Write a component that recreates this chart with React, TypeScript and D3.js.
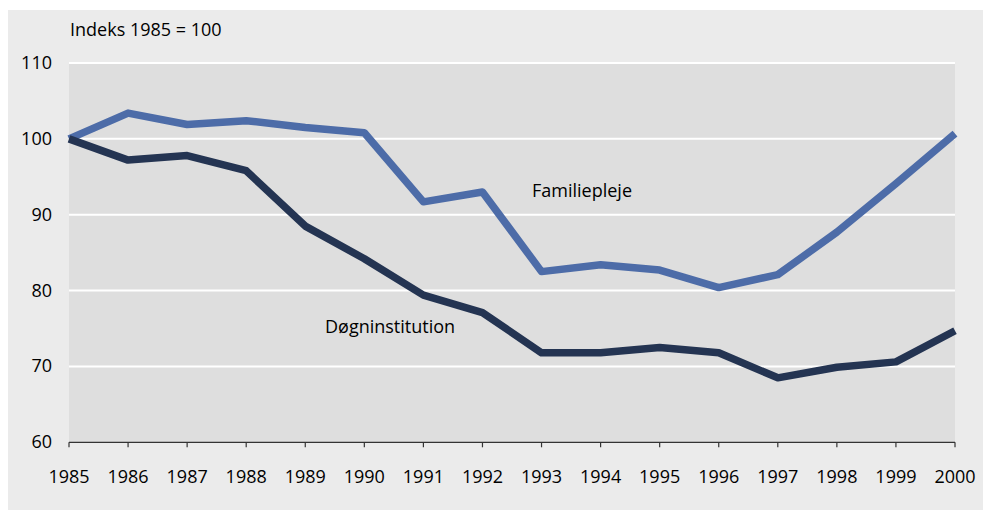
import React from "react";
import * as d3 from "d3";

const years = [1985, 1986, 1987, 1988, 1989, 1990, 1991, 1992, 1993, 1994, 1995, 1996, 1997, 1998, 1999, 2000];
const familiepleje = [100, 103.4, 101.9, 102.4, 101.5, 100.8, 91.7, 93.0, 82.5, 83.4, 82.7, 80.4, 82.1, 87.7, 94.1, 100.7];
const doegninstitution = [100, 97.2, 97.8, 95.8, 88.5, 84.2, 79.4, 77.1, 71.8, 71.8, 72.5, 71.8, 68.5, 69.9, 70.6, 74.7];
const yTicks = [60, 70, 80, 90, 100, 110];

const W = 983, H = 511;
const FONT = "'Open Sans', sans-serif";
const FS = 18;

export default function App() {
  const x = d3.scaleLinear().domain([1985, 2000]).range([69, 955]);
  const y = d3.scaleLinear().domain([60, 110]).range([442.3, 63]);
  const line = d3.line<number>().x((_, i) => x(years[i])).y((d) => y(d));
  return (
    <svg width={W} height={H} style={{ position: "absolute", left: 0, top: 0 }}>
      <rect x={8} y={10} width={W - 8} height={500} fill="#ebebeb" />
      <rect x={x(1985)} y={y(110)} width={x(2000) - x(1985)} height={y(60) - y(110)} fill="#dedede" />
      {yTicks.filter((t) => t > 60).map((t) => (
        <line key={t} x1={x(1985)} x2={x(2000)} y1={y(t)} y2={y(t)} stroke="#ffffff" strokeWidth={2} />
      ))}
      <line x1={x(1985)} x2={x(2000)} y1={y(60)} y2={y(60)} stroke="#333" strokeWidth={1.2} />
      {years.map((yr) => (
        <line key={yr} x1={x(yr)} x2={x(yr)} y1={y(60)} y2={y(60) + 5} stroke="#333" strokeWidth={1.2} />
      ))}
      {years.map((yr) => (
        <text key={yr} x={x(yr)} y={y(60) + 41} textAnchor="middle" fontFamily={FONT} fontSize={FS} fill="#000">{yr}</text>
      ))}
      {yTicks.map((t) => (
        <text key={t} x={52} y={y(t) + 6} textAnchor="end" fontFamily={FONT} fontSize={FS} fill="#000">{t}</text>
      ))}
      <text x={70} y={36} fontFamily={FONT} fontSize={FS} fill="#000">Indeks 1985 = 100</text>
      <path d={line(familiepleje) || ""} fill="none" stroke="#4d6ca8" strokeWidth={7.5} strokeLinejoin="round" />
      <path d={line(doegninstitution) || ""} fill="none" stroke="#243452" strokeWidth={7.5} strokeLinejoin="round" />
      <text x={532} y={197} fontFamily={FONT} fontSize={FS} fill="#000">Familiepleje</text>
      <text x={325} y={333} fontFamily={FONT} fontSize={FS} fill="#000">Døgninstitution</text>
    </svg>
  );
}
